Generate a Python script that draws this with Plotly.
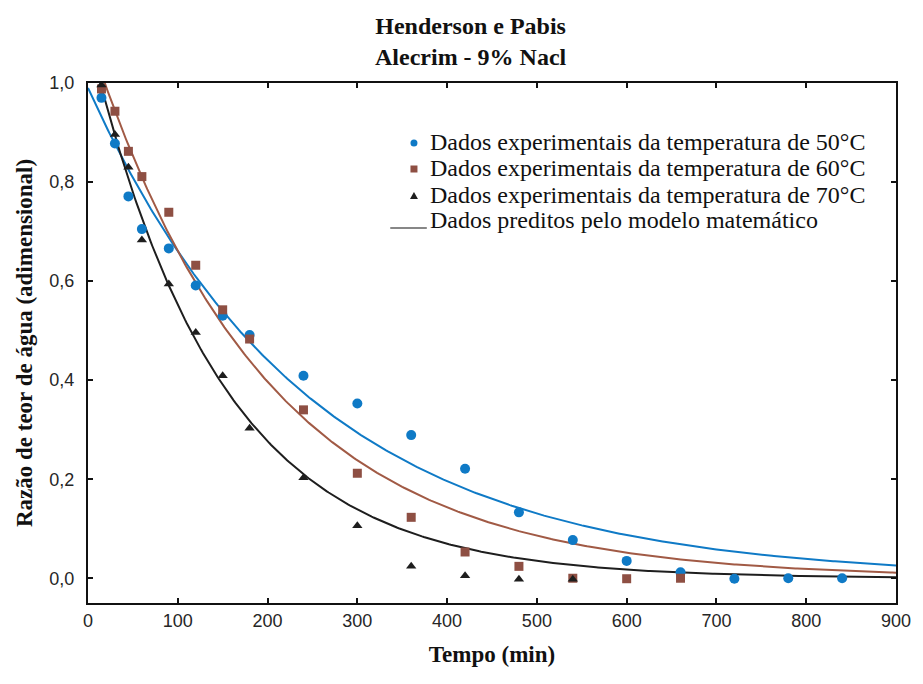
import numpy as np
import plotly.graph_objects as go

# Tempo de secagem (min) e razão de teor de água observada
tempo_50 = [15, 30, 45, 60, 90, 120, 150, 180, 240, 300, 360, 420, 480, 540, 600, 660, 720, 780, 840]
mr_50 = [0.970, 0.878, 0.771, 0.705, 0.666, 0.591, 0.530, 0.491, 0.409, 0.353, 0.289, 0.221,
         0.133, 0.077, 0.035, 0.012, -0.001, 0.000, 0.000]

tempo_60 = [15, 30, 45, 60, 90, 120, 150, 180, 240, 300, 360, 420, 480, 540, 600, 660]
mr_60 = [0.988, 0.943, 0.862, 0.811, 0.739, 0.632, 0.542, 0.483, 0.340, 0.212, 0.123, 0.053,
         0.024, 0.000, -0.001, 0.000]

tempo_70 = [15, 30, 45, 60, 90, 120, 150, 180, 240, 300, 360, 420, 480, 540]
mr_70 = [0.996, 0.896, 0.830, 0.683, 0.594, 0.496, 0.409, 0.303, 0.203, 0.106, 0.024, 0.005,
         -0.002, -0.002]

# Parâmetros do modelo de Henderson e Pabis: MR = a * exp(-k t)
temperaturas = ["50", "60", "70"]
param_a = [0.99, 1.10, 1.10]
param_k = [0.00405, 0.0051, 0.0069]

legenda = [
    "Dados experimentais da temperatura de 50°C",
    "Dados experimentais da temperatura de 60°C",
    "Dados experimentais da temperatura de 70°C",
    "Dados preditos pelo modelo matemático",
]

cor_50 = "#0f7ac6"
cor_60 = "#8e4f43"
cor_60_linha = "#a15a45"
cor_70 = "#1e1e1e"

SERIF = "Liberation Serif, Times New Roman, serif"
SANS = "Liberation Sans, Arial, sans-serif"

# Área do gráfico em pixels (para posicionar a legenda desenhada à mão)
ML, MR, MT, MB = 88, 17, 83, 81
W, H = 923, 684
PW, PH = W - ML - MR, H - MT - MB


def px_x(x):
    return (x - ML) / PW


def px_y(y):
    return (H - MB - y) / PH


t_modelo = np.linspace(0, 900, 451)

fig = go.Figure()

# Curvas preditas pelo modelo
cores_linha = [cor_50, cor_60_linha, cor_70]
for temp, a, k, cor in zip(temperaturas, param_a, param_k, cores_linha):
    fig.add_trace(go.Scatter(
        x=t_modelo, y=a * np.exp(-k * t_modelo), mode="lines",
        line=dict(color=cor, width=2), name=f"Modelo {temp}°C",
        showlegend=False, hoverinfo="skip",
    ))

fig.add_trace(go.Scatter(
    x=tempo_50, y=mr_50, mode="markers",
    marker=dict(symbol="circle", size=10, color=cor_50),
    name=legenda[0], showlegend=False,
))
fig.add_trace(go.Scatter(
    x=tempo_60, y=mr_60, mode="markers",
    marker=dict(symbol="square", size=9, color=cor_60),
    name=legenda[1], showlegend=False,
))
fig.add_trace(go.Scatter(
    x=tempo_70, y=mr_70, mode="markers",
    marker=dict(symbol="triangle-up", size=9, color=cor_70),
    name=legenda[2], showlegend=False,
))

eixo = dict(
    showline=True, linecolor="#111111", linewidth=2, mirror="allticks",
    ticks="inside", ticklen=5, tickwidth=1.5, tickcolor="#111111",
    showgrid=False, zeroline=False,
    tickfont=dict(family=SANS, size=18, color="#262626"),
)

fig.update_xaxes(
    **eixo, range=[0, 900], tickvals=list(range(0, 1000, 100)),
    title=dict(text="<b>Tempo (min)</b>", standoff=16,
               font=dict(family=SERIF, size=23, color="#111111")),
)
fig.update_yaxes(
    **eixo, range=[-0.05, 1.0], tickvals=[0.0, 0.2, 0.4, 0.6, 0.8, 1.0], tickformat=".1f",
    ticklabelstandoff=8,
    title=dict(text="<b>Razão de teor de água (adimensional)</b>", standoff=10,
               font=dict(family=SERIF, size=23, color="#111111")),
)

# Título em duas linhas
anotacoes = [dict(
    text="<b>Henderson e Pabis<br>Alecrim - 9% Nacl</b>",
    x=px_x(476), y=px_y(41), xref="paper", yref="paper",
    xanchor="center", yanchor="middle", showarrow=False,
    font=dict(family=SERIF, size=24, color="#111111"),
)]

# Legenda: textos e símbolos
linhas_y = [142, 168, 195, 220]
for texto, yl in zip(legenda, linhas_y):
    anotacoes.append(dict(
        text=texto, x=px_x(432), y=px_y(yl), xref="paper", yref="paper",
        xanchor="left", yanchor="middle", showarrow=False,
        font=dict(family=SERIF, size=24, color="#111111"),
    ))

simbolos = [
    dict(type="circle", xref="paper", yref="paper", xsizemode="pixel", ysizemode="pixel",
         xanchor=px_x(418), yanchor=px_y(143), x0=-3.5, x1=3.5, y0=-3.5, y1=3.5,
         fillcolor=cor_50, line=dict(width=0)),
    dict(type="rect", xref="paper", yref="paper", xsizemode="pixel", ysizemode="pixel",
         xanchor=px_x(418), yanchor=px_y(169), x0=-3.5, x1=3.5, y0=-3.5, y1=3.5,
         fillcolor=cor_60, line=dict(width=0)),
    dict(type="path", xref="paper", yref="paper", xsizemode="pixel", ysizemode="pixel",
         xanchor=px_x(418), yanchor=px_y(196), path="M -4,-3 L 4,-3 L 0,4 Z",
         fillcolor=cor_70, line=dict(width=0)),
    dict(type="line", xref="paper", yref="paper",
         x0=px_x(394), x1=px_x(431), y0=px_y(228), y1=px_y(228),
         line=dict(color="#111111", width=1.2)),
]

fig.update_layout(
    width=W, height=H,
    margin=dict(l=ML, r=MR, t=MT, b=MB),
    paper_bgcolor="white", plot_bgcolor="white",
    separators=", ",
    showlegend=False,
    annotations=anotacoes,
    shapes=simbolos,
)

fig.write_html("out.html")
